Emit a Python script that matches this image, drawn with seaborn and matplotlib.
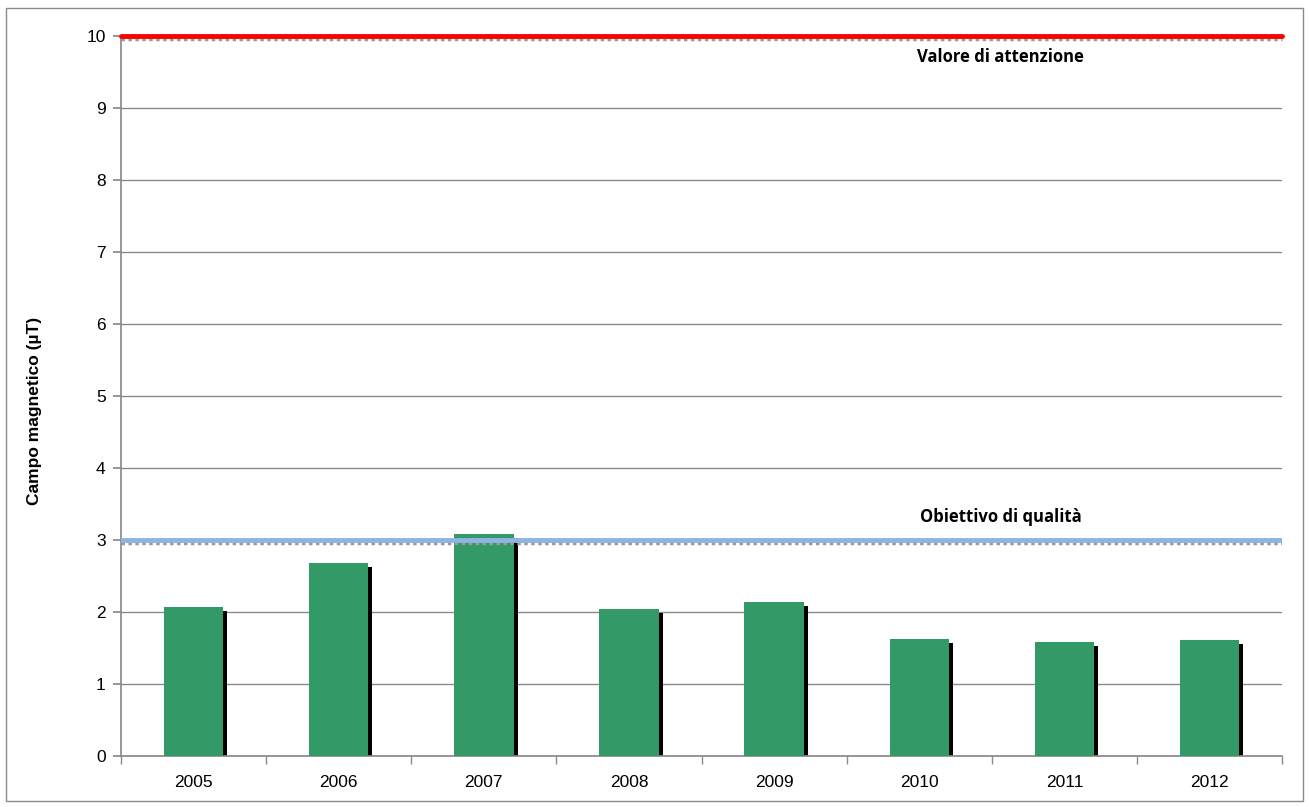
import matplotlib
matplotlib.use("Agg")
import matplotlib.pyplot as plt
import matplotlib.transforms as mtransforms
from matplotlib.patches import Rectangle
import seaborn as sns
import pandas as pd
import numpy as np

years = ["2005", "2006", "2007", "2008", "2009", "2010", "2011", "2012"]
values = [2.07, 2.68, 3.08, 2.04, 2.14, 1.62, 1.58, 1.61]
attention_value = 10
quality_goal = 3
attention_label = "Valore di attenzione"
quality_label = "Obiettivo di qualità"
y_label = "Campo magnetico (µT)"

df = pd.DataFrame({"anno": years, "campo": values})

sns.set_theme(style="white")
plt.rcParams['font.family'] = ['Liberation Sans', 'DejaVu Sans']
plt.rcParams['text.color'] = 'black'
plt.rcParams['axes.labelcolor'] = 'black'

fig = plt.figure(figsize=(13.09, 8.07), dpi=100)
ax = fig.add_axes([0.0924, 0.0632, 0.9796 - 0.0924, 0.9554 - 0.0632])

# shadow bars
sns.barplot(data=df, x="anno", y="campo", color="black", width=0.41,
            saturation=1, ax=ax, zorder=2, errorbar=None)
shadow_patches = list(ax.patches)
off = mtransforms.offset_copy(ax.transData, fig=fig, x=4, y=-4, units='dots')
for p in shadow_patches:
    p.set_transform(off)
    p.set_linewidth(0)

# main bars
sns.barplot(data=df, x="anno", y="campo", color="#339966", width=0.41,
            saturation=1, ax=ax, zorder=3, errorbar=None)
for p in ax.patches[len(shadow_patches):]:
    p.set_linewidth(0)

ax.set_ylim(0, 10)
ax.set_xlim(-0.5, len(years) - 0.5)
ax.set_yticks(range(0, 11))
ax.yaxis.grid(True, color="#8a8a8a", linewidth=1)
ax.set_axisbelow(True)

# reference lines
down = mtransforms.offset_copy(ax.transData, fig=fig, x=0, y=-3, units='dots')
ax.plot([-0.5, len(years) - 0.5], [attention_value] * 2, color="#9a9a9a",
        lw=2.5, ls=(0, (1, 1)), transform=down, zorder=4, clip_on=False)
ax.axhline(attention_value, color="#ff0000", lw=3.5, zorder=5, clip_on=False)
ax.plot([-0.5, len(years) - 0.5], [quality_goal] * 2, color="#9a9a9a",
        lw=2.5, ls=(0, (1, 1)), transform=down, zorder=4)
ax.axhline(quality_goal, color="#8eb4e3", lw=3.5, zorder=5)

ax.text(5.56, 9.71, attention_label, ha="center", va="center", color="black",
        fontsize=12, fontweight="bold", family=["Open Sans", "DejaVu Sans"])
ax.text(5.56, 3.32, quality_label, ha="center", va="center", color="black",
        fontsize=12, fontweight="bold", family=["Open Sans", "DejaVu Sans"])

ax.set_xlabel("")
ax.set_ylabel(y_label, fontsize=12.5, fontweight="bold", color="black")
ax.yaxis.set_label_coords(-0.068, 0.479)

for s in ["top", "right"]:
    ax.spines[s].set_visible(False)
ax.spines["left"].set_color("#8a8a8a")
ax.spines["bottom"].set_color("#8a8a8a")

ax.tick_params(axis="x", which="major", length=0, labelsize=12.5, pad=14, colors="black")
ax.set_xticks(np.arange(-0.5, len(years), 1.0), minor=True)
ax.tick_params(axis="x", which="minor", length=6, color="#8a8a8a", direction="out", bottom=True)
ax.tick_params(axis="y", length=6, color="#8a8a8a", direction="out", left=True,
               labelsize=12.5, pad=5, labelcolor="black")

fig.patches.append(Rectangle((6 / 1309, 1 - 801 / 807), 1297 / 1309, 793 / 807,
                             transform=fig.transFigure, fill=False,
                             edgecolor="#8a8a8a", lw=1))

fig.savefig("out.png", dpi=100)
